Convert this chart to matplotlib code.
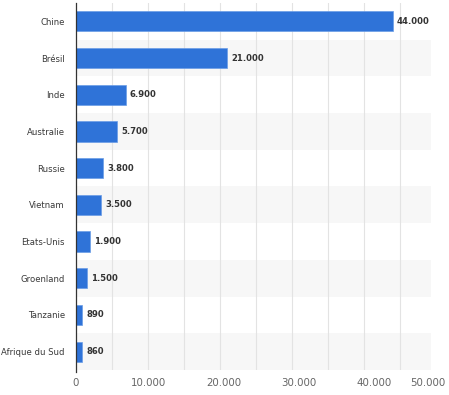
import matplotlib
matplotlib.use("Agg")
import matplotlib.pyplot as plt
from matplotlib.ticker import FuncFormatter
from matplotlib.transforms import ScaledTranslation

countries = ["Chine", "Brésil", "Inde", "Australie", "Russie", "Vietnam",
             "Etats-Unis", "Groenland", "Tanzanie", "Afrique du Sud"]
values = [44000, 21000, 6900, 5700, 3800, 3500, 1900, 1500, 890, 860]
xticks = [0, 10000, 20000, 30000, 40000, 50000]

def fmt(v):
    return f"{int(v):,}".replace(",", ".")

fig = plt.figure(figsize=(4.49, 3.95), dpi=100)
L, R, T, B = 76, 436, 3, 370
ax = fig.add_axes([L/449, 1-B/395, (R-L)/449, (B-T)/395])

n = len(countries)
ypos = list(range(n))
band_xmax = (431-L)/(R-L)
for i in ypos:
    if i % 2 == 1:
        ax.axhspan(i-0.5, i+0.5, xmin=0, xmax=band_xmax, color="#f7f7f7", zorder=0, lw=0)

for g in range(5000, 46000, 5000):
    ax.axvline(g, color="#e3e3e3", lw=0.8, zorder=1)

ax.barh(ypos, values, height=0.55, color="#2f73d8", edgecolor="#6a9de6", lw=0.5, zorder=2)
for y, v in zip(ypos, values):
    ax.text(v + 600, y, fmt(v), va="center", ha="left", fontsize=6.1,
            color="#333333", fontweight="bold", zorder=3)

ax.set_xlim(0, 50000)
ax.set_ylim(n-0.5, -0.5)
ax.set_yticks(ypos)
ax.set_yticklabels(countries, fontsize=6.1, color="#3a3a3a")
ax.set_xticks(xticks)
ax.xaxis.set_major_formatter(FuncFormatter(lambda v, p: fmt(v)))
ax.tick_params(axis="x", length=0, labelsize=7.4, labelcolor="#666666", pad=6)
ax.tick_params(axis="y", length=0, pad=8)
offsets = [0, 1, 4, 7, 10, -8]
for lab, dx in zip(ax.get_xticklabels(), offsets):
    lab.set_transform(lab.get_transform() + ScaledTranslation(dx/100, 0, fig.dpi_scale_trans))
for s in ["top", "right", "bottom"]:
    ax.spines[s].set_visible(False)
ax.spines["left"].set_color("#333333")
ax.spines["left"].set_linewidth(0.9)
ax.spines["left"].set_bounds(-0.5, n-0.5+0.05)
ax.set_facecolor("white")

fig.savefig("out.png", dpi=100)
